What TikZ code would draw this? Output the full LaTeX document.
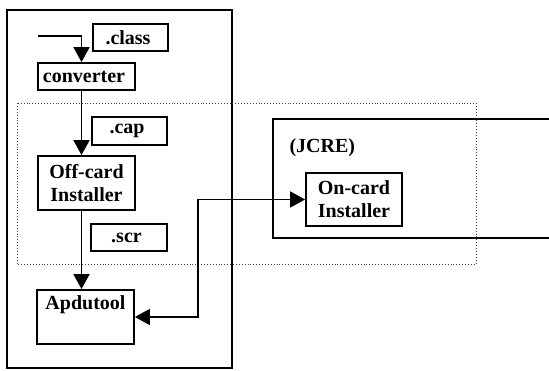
\documentclass[tikz,border=0pt]{standalone}
\usepackage{fontspec}
\setmainfont{Liberation Serif}
\usepackage{tikz}
\usetikzlibrary{arrows.meta,calc,positioning}

\tikzset{
  file box/.style={
    rectangle,
    draw=black,
    fill=white,
    line width=1.8pt,
    inner sep=1pt,
    align=center,
    font=\fontsize{20}{23}\selectfont\bfseries
  }
}
\tikzset{
  tool box/.style={
    rectangle,
    draw=black,
    fill=white,
    line width=1.8pt,
    minimum width=97pt,
    inner sep=1pt,
    align=center,
    font=\fontsize{20}{23}\selectfont\bfseries
  }
}
\tikzset{
  flow/.style={
    -{Triangle[length=15pt,width=16pt]},
    draw=black,
    line width=1.8pt
  }
}
\tikzset{
  frame/.style={
    draw=black,
    line width=1.5pt
  }
}

\begin{document}
\begin{tikzpicture}[x=1pt,y=-1pt]

    \useasboundingbox (0,0) rectangle (549,370);

    % ------------------------------------------------------------
    % Frames
    % ------------------------------------------------------------

    \draw[frame] (7,10) rectangle (232,368);

    \draw[draw=black!75,line width=0.9pt,dotted] (17,103) rectangle (476,264);

    % JCRE box runs off the right edge
    \draw[frame] (560,119) -- (273,119) -- (273,238) -- (560,238);

    \node[anchor=west,font=\fontsize{20}{23}\selectfont\bfseries]
      (jcre) at (286,148) {(JCRE)};

    % ------------------------------------------------------------
    % Nodes
    % ------------------------------------------------------------

    \node[file box,minimum width=75pt,minimum height=27pt] (class) at (130.5,37.5)
    {
      .class
    };

    \node[tool box,minimum height=27pt] (converter) at (86.5,76.5)
    {
      converter
    };

    \node[file box,minimum width=75pt,minimum height=28pt] (cap) at (129.5,131)
    {
      .cap
    };

    \node[tool box,minimum height=54pt] (offcard) at (86.5,183)
    {
      Off-card\\
      Installer
    };

    \node[file box,minimum width=76pt,minimum height=27pt] (scr) at (129,237.5)
    {
      .scr
    };

    % Apdutool label sits at the top of its box
    \node[
      tool box,
      minimum height=54pt,
      label={[anchor=north,yshift=-3pt,font=\fontsize{20}{23}\selectfont\bfseries]north:Apdutool}
    ] (apdutool) at (85.5,317)
    {};

    \node[tool box,minimum width=96pt,minimum height=53pt] (oncard) at (354,199.5)
    {
      On-card\\
      Installer
    };

    % ------------------------------------------------------------
    % Connectors
    % ------------------------------------------------------------

    \coordinate (entry) at (38,36);
    \coordinate (bend) at (198,0);

    \draw[flow]
      (entry)
      -|
      ([xshift=-5pt]converter.north);

    \draw[flow]
      ([xshift=-5pt]converter.south)
      --
      ([xshift=-5pt]offcard.north);

    \draw[flow]
      ([xshift=-5pt]offcard.south)
      --
      ([xshift=-4pt]apdutool.north);

    % Apdutool <-> On-card Installer
    \draw[flow,{Triangle[length=15pt,width=16pt]}-{Triangle[length=15pt,width=16pt]}]
      (apdutool.east)
      --
      (apdutool.east -| bend)
      --
      (bend |- oncard.west)
      --
      (oncard.west);

\end{tikzpicture}
\end{document}
